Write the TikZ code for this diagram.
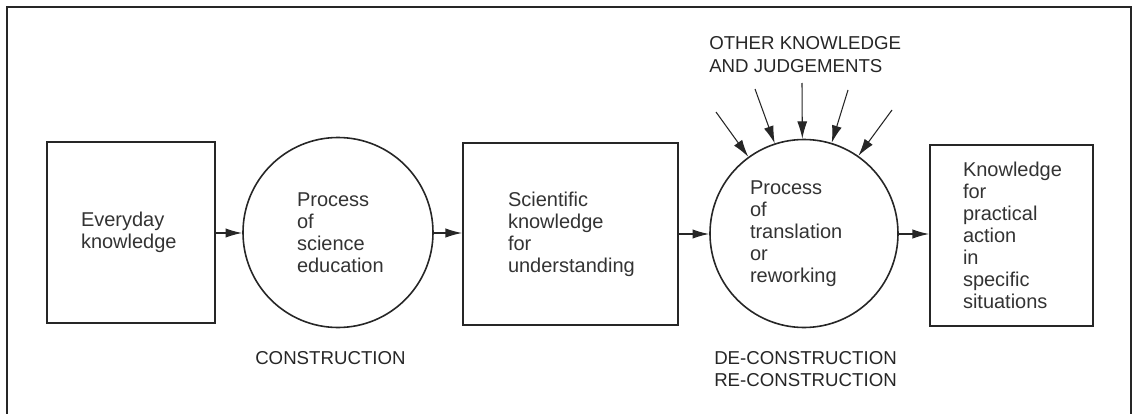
\documentclass[tikz,border=0pt]{standalone}
\usepackage{fontspec}
\setmainfont{Liberation Sans}
\usetikzlibrary{arrows.meta}
\def\pxu{0.75pt}
\begin{document}
\begin{tikzpicture}[x=0.75pt,y=-0.75pt,
  ink/.style={draw=black!85},
  boxnode/.style={ink,line width=1.3pt,rectangle,inner sep=0pt,align=left,
    font=\fontsize{15pt}{16.5pt}\selectfont,text=black!80},
  procnode/.style={ink,line width=1.2pt,circle,inner sep=0pt,align=left,
    font=\fontsize{15pt}{16.5pt}\selectfont,text=black!80},
  caption/.style={align=left,inner sep=0pt,
    font=\fontsize{14pt}{16.8pt}\selectfont,text=black!85},
  flow/.style={ink,line width=0.9pt,-{Latex[length=12.5pt,width=7pt]}},
  feed/.style={ink,line width=0.8pt,-{Latex[length=13pt,width=7.5pt]}}]
\useasboundingbox (0,0) rectangle (1133,414);
% frame, open at the bottom
\draw[black!85,line width=1.9pt] (7,414) -- (7,7) -- (1131,7) -- (1131,414);

% main chain
\node[boxnode,minimum width=168*\pxu,minimum height=181*\pxu,text width=100*\pxu]
  (everyday) at (131,232.5) {Everyday\\knowledge};
\node[procnode,minimum size=190*\pxu,text width=82*\pxu]
  (educ) at (338,232.5) {Process\\of\\science\\education};
\node[boxnode,minimum width=215*\pxu,minimum height=182*\pxu,text width=125*\pxu]
  (sci) at (570.5,234) {Scientific\\knowledge\\for\\understanding};
\node[procnode,minimum size=188*\pxu,text width=108*\pxu]
  (transl) at (804,233.5) {Process\\of\\translation\\or\\reworking};
\node[boxnode,minimum width=163*\pxu,minimum height=181*\pxu,text width=97*\pxu]
  (practical) at (1011.5,235.5)
  {Knowledge\\for\\practical\\action\\in\\specific\\situations};

\draw[flow] (everyday.east |- 0,233) -- (educ.west |- 0,233);
\draw[flow] (educ.east |- 0,233) -- (sci.west |- 0,233);
\draw[flow] (sci.east |- 0,234) -- (transl.west |- 0,234);
\draw[flow] (transl.east |- 0,234) -- (practical.west |- 0,234);

% captions
\node[caption,anchor=west] (constr) at (255,358) {CONSTRUCTION};
\node[caption,anchor=west] (decon) at (714,369) {DE-CONSTRUCTION\\RE-CONSTRUCTION};
\node[caption,anchor=west] (other) at (709,54.5) {OTHER KNOWLEDGE\\AND JUDGEMENTS};

% outside influences on the translation process
\coordinate (f1) at (716,112);
\coordinate (f2) at (755,89);
\coordinate (f3) at (802,83);
\coordinate (f4) at (848,90);
\coordinate (f5) at (892,110);
\draw[feed] (f1) -- (transl.126);
\draw[feed] (f2) -- (transl.108.5);
\draw[feed] (f3) -- (transl.91);
\draw[feed] (f4) -- (transl.73.5);
\draw[feed] (f5) -- (transl.55);
\end{tikzpicture}
\end{document}
